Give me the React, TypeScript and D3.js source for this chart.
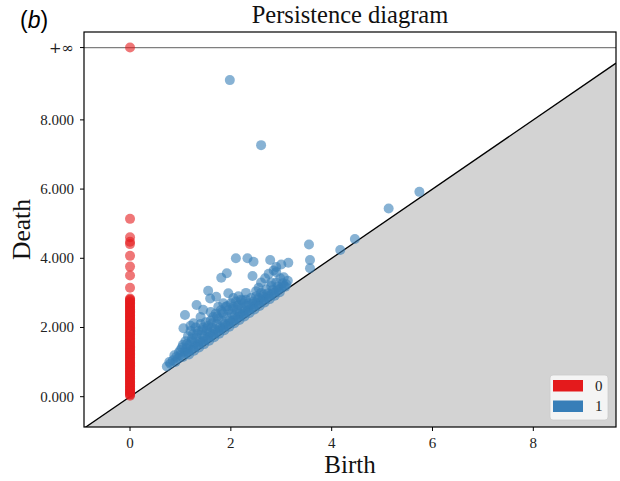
import React from "react";
import * as d3 from "d3";

const W = 620;
const H = 481;

const xTicks = [0, 2, 4, 6, 8];
const yTicks = [0, 2, 4, 6, 8];
const infValue = 10.09;
const legendLabels = ["0", "1"];
const colors = ["#e41a1c", "#377eb8"];

// dimension 0: births all 0
const h0Deaths = [
  0.03, 0.08, 0.12, 0.17, 0.21, 0.26, 0.3, 0.35, 0.4, 0.44, 0.49, 0.53, 0.58, 0.63, 0.67, 0.72,
  0.76, 0.81, 0.86, 0.9, 0.95, 0.99, 1.04, 1.09, 1.13, 1.18, 1.22, 1.27, 1.32, 1.36, 1.41, 1.45,
  1.5, 1.55, 1.59, 1.64, 1.68, 1.73, 1.78, 1.82, 1.87, 1.91, 1.96, 2.01, 2.05, 2.1, 2.14, 2.19,
  2.24, 2.28, 2.33, 2.37, 2.42, 2.47, 2.51, 2.56, 2.6, 2.65, 2.7, 2.74, 2.79, 2.84,
  0.06, 0.15, 0.24, 0.33, 0.42, 0.51, 0.6, 0.69, 0.78, 0.88, 0.97, 1.06, 1.15, 1.25, 1.34, 1.43,
  1.52, 1.61, 1.7, 1.8, 1.89, 1.98, 2.07, 2.17, 2.26, 2.35, 2.44, 2.53, 2.62, 2.72, 2.81,
  3.15, 3.5, 3.76, 4.07, 4.41, 4.48, 4.61, 5.14,
];
const h0InfiniteBirths = [0];

// dimension 1: [birth, death]
const h1Pairs: [number, number][] = [
  [0.73, 0.87], [0.8, 0.95], [0.85, 1.05], [0.9, 1.0], [0.92, 1.15], [0.95, 1.1], [1.0, 1.2], [1.0, 1.35],
  [1.05, 1.15], [1.05, 1.5], [1.08, 1.3], [1.1, 1.25], [1.1, 1.6], [1.12, 1.4], [1.15, 1.3], [1.15, 1.75],
  [1.18, 1.5], [1.2, 1.35], [1.2, 1.9], [1.22, 1.6], [1.25, 1.4], [1.25, 1.8], [1.28, 1.55], [1.3, 1.45],
  [1.3, 2.0], [1.32, 1.7], [1.35, 1.5], [1.35, 1.9], [1.38, 1.6], [1.4, 1.55], [1.4, 2.1], [1.42, 1.8],
  [1.45, 1.6], [1.45, 2.0], [1.48, 1.75], [1.5, 1.65], [1.5, 2.15], [1.52, 1.9], [1.55, 1.7], [1.55, 2.05],
  [1.58, 1.85], [1.6, 1.75], [1.6, 2.2], [1.62, 2.0], [1.65, 1.8], [1.65, 2.3], [1.68, 1.95], [1.7, 1.85],
  [1.7, 2.4], [1.72, 2.1], [1.75, 1.9], [1.75, 2.25], [1.78, 2.0], [1.8, 1.95], [1.8, 2.5], [1.82, 2.2],
  [1.85, 2.0], [1.85, 2.4], [1.88, 2.1], [1.9, 2.05], [1.9, 2.6], [1.92, 2.3], [1.95, 2.1], [1.95, 2.5],
  [1.98, 2.2], [2.0, 2.15], [2.0, 2.7], [2.02, 2.4], [2.05, 2.2], [2.05, 2.6], [2.08, 2.35], [2.1, 2.25],
  [2.1, 2.75], [2.12, 2.5], [2.15, 2.3], [2.15, 2.65], [2.18, 2.4], [2.2, 2.35], [2.2, 2.8], [2.22, 2.55],
  [2.25, 2.4], [2.25, 2.7], [2.28, 2.5], [2.3, 2.45], [2.3, 2.8], [2.35, 2.5], [2.35, 2.7], [2.4, 2.55],
  [2.4, 2.85], [2.45, 2.6], [2.45, 2.75], [2.5, 2.65], [2.5, 2.9], [2.55, 2.7], [2.55, 2.85], [2.6, 2.75],
  [2.6, 3.0], [2.65, 2.8], [2.65, 2.95], [2.7, 2.85], [2.7, 3.1], [2.75, 2.9], [2.8, 2.95], [2.8, 3.2],
  [2.85, 3.0], [2.9, 3.05], [2.9, 3.3], [2.95, 3.1], [3.0, 3.15], [3.05, 3.2], [3.1, 3.25],
  [0.78, 1.0], [0.88, 1.2], [0.97, 1.28], [1.03, 1.42], [1.13, 1.52], [1.17, 1.22], [1.23, 1.68],
  [1.27, 1.33], [1.33, 1.82], [1.37, 1.42], [1.43, 1.92], [1.47, 1.52], [1.53, 1.98], [1.57, 1.62],
  [1.63, 2.12], [1.67, 1.72], [1.73, 2.32], [1.77, 1.82], [1.83, 2.45], [1.87, 1.92], [1.93, 2.62],
  [1.97, 2.02], [2.03, 2.52], [2.07, 2.12], [2.13, 2.62], [2.17, 2.22], [2.23, 2.78], [2.27, 2.32],
  [2.33, 2.62], [2.37, 2.42], [2.43, 2.68], [2.47, 2.52], [2.53, 2.78], [2.57, 2.62], [2.63, 2.88],
  [2.67, 2.72], [2.73, 2.98], [2.77, 2.82], [2.83, 3.08], [2.87, 2.92], [2.93, 3.18], [2.97, 3.02],
  [3.03, 3.28], [3.13, 3.35], [1.6, 2.45], [1.75, 2.6], [1.85, 2.7], [2.05, 2.85], [1.4, 2.3], [1.2, 2.05],
  [1.98, 9.15], [2.6, 7.27], [5.74, 5.92], [5.13, 5.44], [4.46, 4.56], [4.17, 4.24], [3.55, 4.4],
  [3.57, 3.95], [3.57, 3.71], [2.78, 3.95], [3.14, 3.87], [2.9, 3.75], [3.0, 3.82], [2.85, 3.65],
  [2.98, 3.42], [2.68, 3.42], [3.08, 3.18], [2.1, 4.0], [2.33, 4.0], [2.45, 3.9], [1.81, 3.44],
  [1.92, 3.57], [2.43, 3.49], [1.55, 3.06], [1.59, 2.84], [1.95, 2.99], [1.71, 2.89], [1.32, 2.65],
  [1.09, 2.36], [1.45, 2.51], [1.06, 1.98], [1.26, 2.12], [2.6, 3.3], [2.75, 3.55], [2.9, 3.6],
  [3.05, 3.45], [2.55, 3.15], [2.8, 3.3], [2.3, 3.0], [2.5, 3.05], [2.15, 2.9],
];

const xDomain: [number, number] = [-0.913, 9.64];
const yDomain: [number, number] = [-0.876, 10.54];

export default function App() {
  const left = 84, right = 616, top = 32, bottom = 427;
  const x = d3.scaleLinear().domain(xDomain).range([left, right]);
  const y = d3.scaleLinear().domain(yDomain).range([bottom, top]);
  const fmt = d3.format(".3f");
  const r = 5;
  const serif = "'Liberation Serif', 'DejaVu Serif', serif";

  const lo = xDomain[0];
  const hi = xDomain[1];
  const triangle = d3.line<[number, number]>()
    .x((d) => x(d[0]))
    .y((d) => y(d[1]))([
      [lo, lo],
      [hi, hi],
      [hi, yDomain[0]],
      [lo, yDomain[0]],
    ]);

  return (
    <svg width={W} height={H} style={{ position: "absolute", left: 0, top: 0, background: "#fff" }}>
      <defs>
        <clipPath id="plotclip">
          <rect x={left} y={top} width={right - left} height={bottom - top} />
        </clipPath>
      </defs>
      <g clipPath="url(#plotclip)">
        <path d={triangle || ""} fill="#d3d3d3" />
        <line x1={x(lo)} y1={y(lo)} x2={x(hi)} y2={y(hi)} stroke="#000" strokeWidth={1.3} />
        <line x1={left} x2={right} y1={y(infValue)} y2={y(infValue)} stroke="#000" strokeOpacity={0.5} strokeWidth={1.3} />
        {h0Deaths.map((d, i) => (
          <circle key={"r" + i} cx={x(0)} cy={y(d)} r={r} fill={colors[0]} fillOpacity={0.6} />
        ))}
        {h0InfiniteBirths.map((b, i) => (
          <circle key={"ri" + i} cx={x(b)} cy={y(infValue)} r={r} fill={colors[0]} fillOpacity={0.6} />
        ))}
        {h1Pairs.map((p, i) => (
          <circle key={"b" + i} cx={x(p[0])} cy={y(p[1])} r={r} fill={colors[1]} fillOpacity={0.6} />
        ))}
      </g>
      <rect x={left} y={top} width={right - left} height={bottom - top} fill="none" stroke="#000" strokeWidth={1.2} />
      {/* x ticks */}
      {xTicks.map((t) => (
        <g key={"xt" + t}>
          <line x1={x(t)} x2={x(t)} y1={bottom} y2={bottom + 4} stroke="#000" strokeWidth={1} />
          <text x={x(t)} y={bottom + 21} textAnchor="middle" fontFamily={serif} fontSize={15} fill="#222">
            {String(t)}
          </text>
        </g>
      ))}
      {/* y ticks */}
      {yTicks.map((t) => (
        <g key={"yt" + t}>
          <line x1={left - 4} x2={left} y1={y(t)} y2={y(t)} stroke="#000" strokeWidth={1} />
          <text x={left - 10} y={y(t) + 5} textAnchor="end" fontFamily={serif} fontSize={15} fill="#222">
            {fmt(t)}
          </text>
        </g>
      ))}
      <line x1={left - 4} x2={left} y1={y(infValue)} y2={y(infValue)} stroke="#000" strokeWidth={1} />
      <text x={left - 10} y={y(infValue) + 5} textAnchor="end" fontFamily="'DejaVu Serif', serif" fontSize={15} fill="#222">
        +∞
      </text>
      {/* titles */}
      <text x={(left + right) / 2} y={23} textAnchor="middle" fontFamily={serif} fontSize={24.5} fill="#111">
        Persistence diagram
      </text>
      <text x={(left + right) / 2} y={473} textAnchor="middle" fontFamily={serif} fontSize={25} fill="#111">
        Birth
      </text>
      <text
        transform={`translate(30, ${(top + bottom) / 2}) rotate(-90)`}
        textAnchor="middle"
        fontFamily={serif}
        fontSize={25.5}
        fill="#111"
      >
        Death
      </text>
      <text x={20} y={28} fontFamily="'Liberation Sans', Arial, sans-serif" fontSize={23} fill="#000">
        (<tspan fontStyle="italic">b</tspan>)
      </text>
      {/* legend */}
      <rect x={550} y={375} width={58} height={45} rx={3} fill="#f7f7f7" fillOpacity={0.9} stroke="#ccc" strokeWidth={0.8} />
      {legendLabels.map((lab, i) => (
        <g key={"lg" + i}>
          <rect x={553} y={380 + i * 20.5} width={30} height={11.5} fill={colors[i]} />
          <text x={595} y={391 + i * 20} fontFamily={serif} fontSize={15} fill="#222">
            {lab}
          </text>
        </g>
      ))}
    </svg>
  );
}
